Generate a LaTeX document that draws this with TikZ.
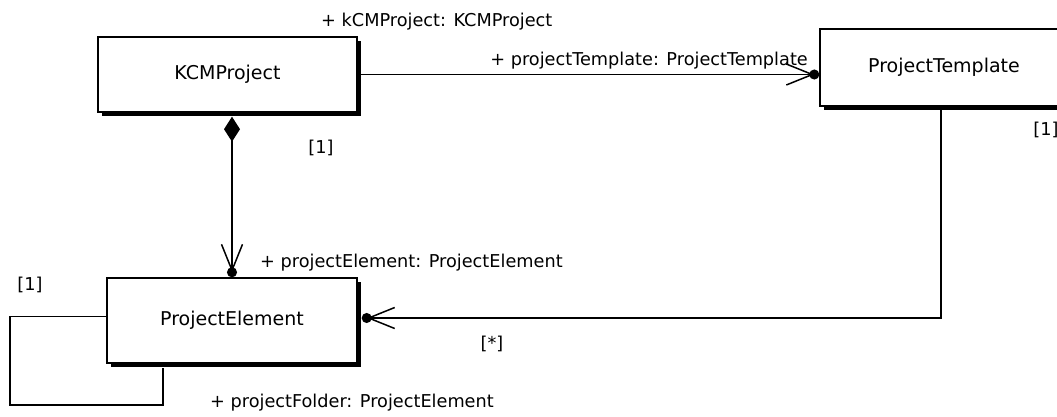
\documentclass[tikz,border=0pt]{standalone}
\usepackage{fontspec}
\setmainfont{DejaVu Sans}
\usetikzlibrary{shapes,arrows.meta,shadows}
\tikzstyle{class} = [draw, rectangle, fill=white, line width=1.4pt, font=\fontsize{19}{22}\selectfont, drop shadow={shadow xshift=4pt, shadow yshift=-4pt, fill=black, opacity=1}]
\tikzstyle{role} = [inner sep=0pt]
\tikzstyle{link} = [line width=1.5pt]
\tikzstyle{assoc} = [link, -{Straight Barb[length=26pt,width=21pt,sep=-5pt]Circle[length=10pt]}]
\tikzstyle{comp} = [link, {Diamond[length=25pt,width=16pt]}-{Straight Barb[length=26pt,width=21pt,sep=-5pt]Circle[length=10pt]}]

\begin{document}
\begin{tikzpicture}[x=1pt, y=-1pt, font=\fontsize{17.7}{21}\selectfont]
    \useasboundingbox (0,0) rectangle (1057,416);
    % Define the nodes
    \node [class, minimum width=259pt, minimum height=75pt] (kcm) at (227.5,74.5) {KCMProject};
    \node [class, minimum width=248pt, minimum height=77pt] (tmpl) at (944,67.5) {ProjectTemplate};
    \node [class, minimum width=250pt, minimum height=85pt] (elem) at (232,320.5) {ProjectElement};
    \coordinate (bend) at (941,318);
    \coordinate (loop) at (10,405);
    \coordinate (elemin) at ([xshift=4pt]elem.east);
    % Role and multiplicity labels
    \node [role, anchor=base west] (kcmrole) at (321,26) {+ kCMProject: KCMProject};
    \node [role, anchor=base east] (tmplrole) at (808,65) {+ projectTemplate: ProjectTemplate};
    \node [role] (kcmmult) at (321,148) {[1]};
    \node [role] (tmplmult) at (1046,130) {[1]};
    \node [role, anchor=base west] (elemrole) at (260,267) {+ projectElement: ProjectElement};
    \node [role] (elemmult) at (492,344) {[*]};
    \node [role] (loopmult) at (30,285) {[1]};
    \node [role, anchor=base west] (folderrole) at (210,407) {+ projectFolder: ProjectElement};
    % Connect the nodes
    \draw [assoc] (kcm.east) -- (kcm.east -| tmpl.west);
    \draw [comp, shorten <=4pt] (kcm.south -| elem.north) -- (elem.north);
    \draw [assoc] (tmpl.south -| bend) -- (bend) -- (bend -| elemin);
    \draw [link] ([yshift=4pt]elem.west) -| (loop) -| ([xshift=-69pt,yshift=-4pt]elem.south);
\end{tikzpicture}
\end{document}
